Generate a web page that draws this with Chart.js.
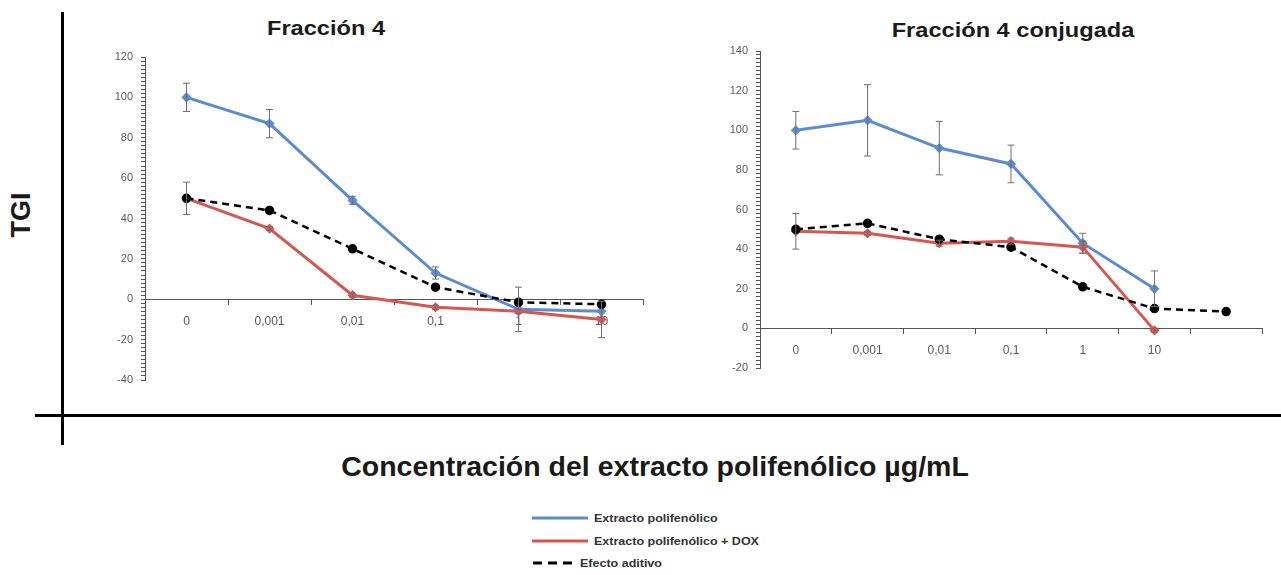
<!DOCTYPE html>
<html>
<head>
<meta charset="utf-8">
<script src="https://cdn.jsdelivr.net/npm/chart.js@4.4.1/dist/chart.umd.min.js"></script>
<style>
  html, body { margin: 0; padding: 0; background: #ffffff; }
  body { width: 1281px; height: 575px; position: relative; overflow: hidden; font-family: "Liberation Sans", Arial, sans-serif; }
  .abs { position: absolute; }
  .title { position: absolute; font-weight: bold; color: #1a1a1a; white-space: nowrap; transform: translate(-50%, -50%); }
  .legtext { position: absolute; font-weight: bold; font-size: 10px; color: #333; white-space: nowrap; transform: translateY(-50%) scaleX(1.25); transform-origin: left center; }
</style>
</head>
<body>
<!-- frame lines -->
<div class="abs" style="left:61px; top:12px; width:3px; height:433px; background:#000;"></div>
<div class="abs" style="left:35px; top:414px; width:1246px; height:3px; background:#000;"></div>

<div class="title" style="left:21px; top:215px; font-size:27px; transform: translate(-50%, -50%) rotate(-90deg);">TGI</div>
<div class="title" style="left:326px; top:28px; font-size:20px; transform: translate(-50%, -50%) scaleX(1.18);">Fracción 4</div>
<div class="title" style="left:1013px; top:30px; font-size:20px; transform: translate(-50%, -50%) scaleX(1.18);">Fracción 4 conjugada</div>
<div class="title" style="left:655px; top:466px; font-size:28.5px;">Concentración del extracto polifenólico µg/mL</div>

<div class="abs" style="left:100px; top:40px; width:560px; height:360px;"><canvas id="c1"></canvas></div>
<div class="abs" style="left:700px; top:30px; width:580px; height:360px;"><canvas id="c2"></canvas></div>

<!-- legend -->
<svg class="abs" style="left:525px; top:505px;" width="70" height="70">
  <line x1="7" y1="13" x2="63" y2="13" stroke="#5b8bd0" stroke-width="3"/>
  <line x1="7" y1="36" x2="63" y2="36" stroke="#d65650" stroke-width="3"/>
  <line x1="8" y1="58" x2="53" y2="58" stroke="#000" stroke-width="3" stroke-dasharray="9,6"/>
</svg>
<div class="legtext" style="left:594px; top:518px;">Extracto polifenólico</div>
<div class="legtext" style="left:594px; top:541px;">Extracto polifenólico + DOX</div>
<div class="legtext" style="left:580px; top:563px;">Efecto aditivo</div>

<script>
// ---------- data ----------
const leftLabels = ['0', '0,001', '0,01', '0,1', '1', '10'];
const leftBlue = [100, 87, 49, 13, -5, -6];
const leftBlueErr = [7, 7, 2, 3, 11, 0];
const leftRed = [50, 35, 2, -4, -6, -10];
const leftRedErr = [8, 1, 1, 1, 1, 9];
const leftBlack = [50, 44, 25, 6, -1.5, -2.5];

const rightLabels = ['0', '0,001', '0,01', '0,1', '1', '10', ''];
const rightBlue = [100, 105, 91, 83, 43, 20];
const rightBlueErr = [9.5, 18, 13.5, 9.5, 5, 9];
const rightRed = [49, 48, 43, 44, 41, -1];
const rightRedErr = [9, 1, 1.5, 1.5, 3, 1];
const rightBlack = [50, 53, 45, 41, 21, 10, 8.5];

const seriesNames = ['Extracto polifenólico', 'Extracto polifenólico + DOX', 'Efecto aditivo'];
const BLUE = '#5b8bd0', RED = '#d65650', BLACK = '#000000';

Chart.defaults.font.family = '"Liberation Sans", Arial, sans-serif';
Chart.defaults.animation = false;

const errorBarPlugin = {
  id: 'errorBars',
  afterDatasetsDraw(chart) {
    const ctx = chart.ctx;
    const ys = chart.scales.y;
    chart.data.datasets.forEach((ds, i) => {
      if (!ds.errors) return;
      const meta = chart.getDatasetMeta(i);
      meta.data.forEach((pt, j) => {
        const e = ds.errors[j];
        const v = ds.data[j];
        if (!e || v === null || v === undefined) return;
        const x = pt.x;
        const yt = ys.getPixelForValue(v + e);
        const yb = ys.getPixelForValue(v - e);
        ctx.save();
        ctx.strokeStyle = '#6f6f6f';
        ctx.lineWidth = 1;
        ctx.beginPath();
        ctx.moveTo(x, yt); ctx.lineTo(x, yb);
        ctx.moveTo(x - 3.5, yt); ctx.lineTo(x + 3.5, yt);
        ctx.moveTo(x - 3.5, yb); ctx.lineTo(x + 3.5, yb);
        ctx.stroke();
        ctx.restore();
      });
    });
  }
};

function makeChart(id, labels, blue, blueErr, red, redErr, black, ymin, ymax, yWidth, padding) {
  return new Chart(document.getElementById(id), {
    type: 'line',
    data: {
      labels: labels,
      datasets: [
        { label: seriesNames[2], data: black, borderColor: BLACK, backgroundColor: BLACK,
          borderWidth: 2.5, borderDash: [7, 5], pointRadius: 3.5, pointStyle: 'circle', tension: 0 },
        { label: seriesNames[1], data: red, errors: redErr, borderColor: RED, backgroundColor: RED,
          borderWidth: 3, pointRadius: 3, pointStyle: 'rectRot', tension: 0 },
        { label: seriesNames[0], data: blue, errors: blueErr, borderColor: BLUE, backgroundColor: BLUE,
          borderWidth: 3, pointRadius: 3, pointStyle: 'rectRot', tension: 0 }
      ]
    },
    options: {
      responsive: true,
      maintainAspectRatio: false,
      layout: { padding: padding },
      plugins: { legend: { display: false }, tooltip: { enabled: false }, title: { display: false } },
      scales: {
        x: {
          type: 'category',
          position: { y: 0 },
          offset: true,
          grid: { offset: true, drawOnChartArea: false, tickLength: 5, color: '#555' },
          border: { color: '#555', width: 1 },
          ticks: { color: '#5a5a5a', font: { size: 12 }, padding: 10, maxRotation: 0, autoSkip: false }
        },
        y: {
          min: ymin, max: ymax,
          grid: { drawOnChartArea: false, tickLength: 4, color: '#555' },
          border: { color: '#555', width: 1 },
          ticks: {
            stepSize: 2, autoSkip: false, color: '#5a5a5a', font: { size: 11 }, padding: 8,
            callback: (v) => { const r = Math.round(v); return (Math.abs(v - r) < 1e-6 && r % 20 === 0) ? String(r) : ''; }
          },
          afterFit: (s) => { s.width = yWidth; }
        }
      }
    },
    plugins: [errorBarPlugin]
  });
}

makeChart('c1', leftLabels, leftBlue, leftBlueErr, leftRed, leftRedErr, leftBlack, -40, 120, 45,
  { left: 0, top: 17, right: 17, bottom: 20 });
makeChart('c2', rightLabels, rightBlue, rightBlueErr, rightRed, rightRedErr, rightBlack, -20, 140, 60,
  { left: 0, top: 21, right: 18, bottom: 22 });
</script>
</body>
</html>
